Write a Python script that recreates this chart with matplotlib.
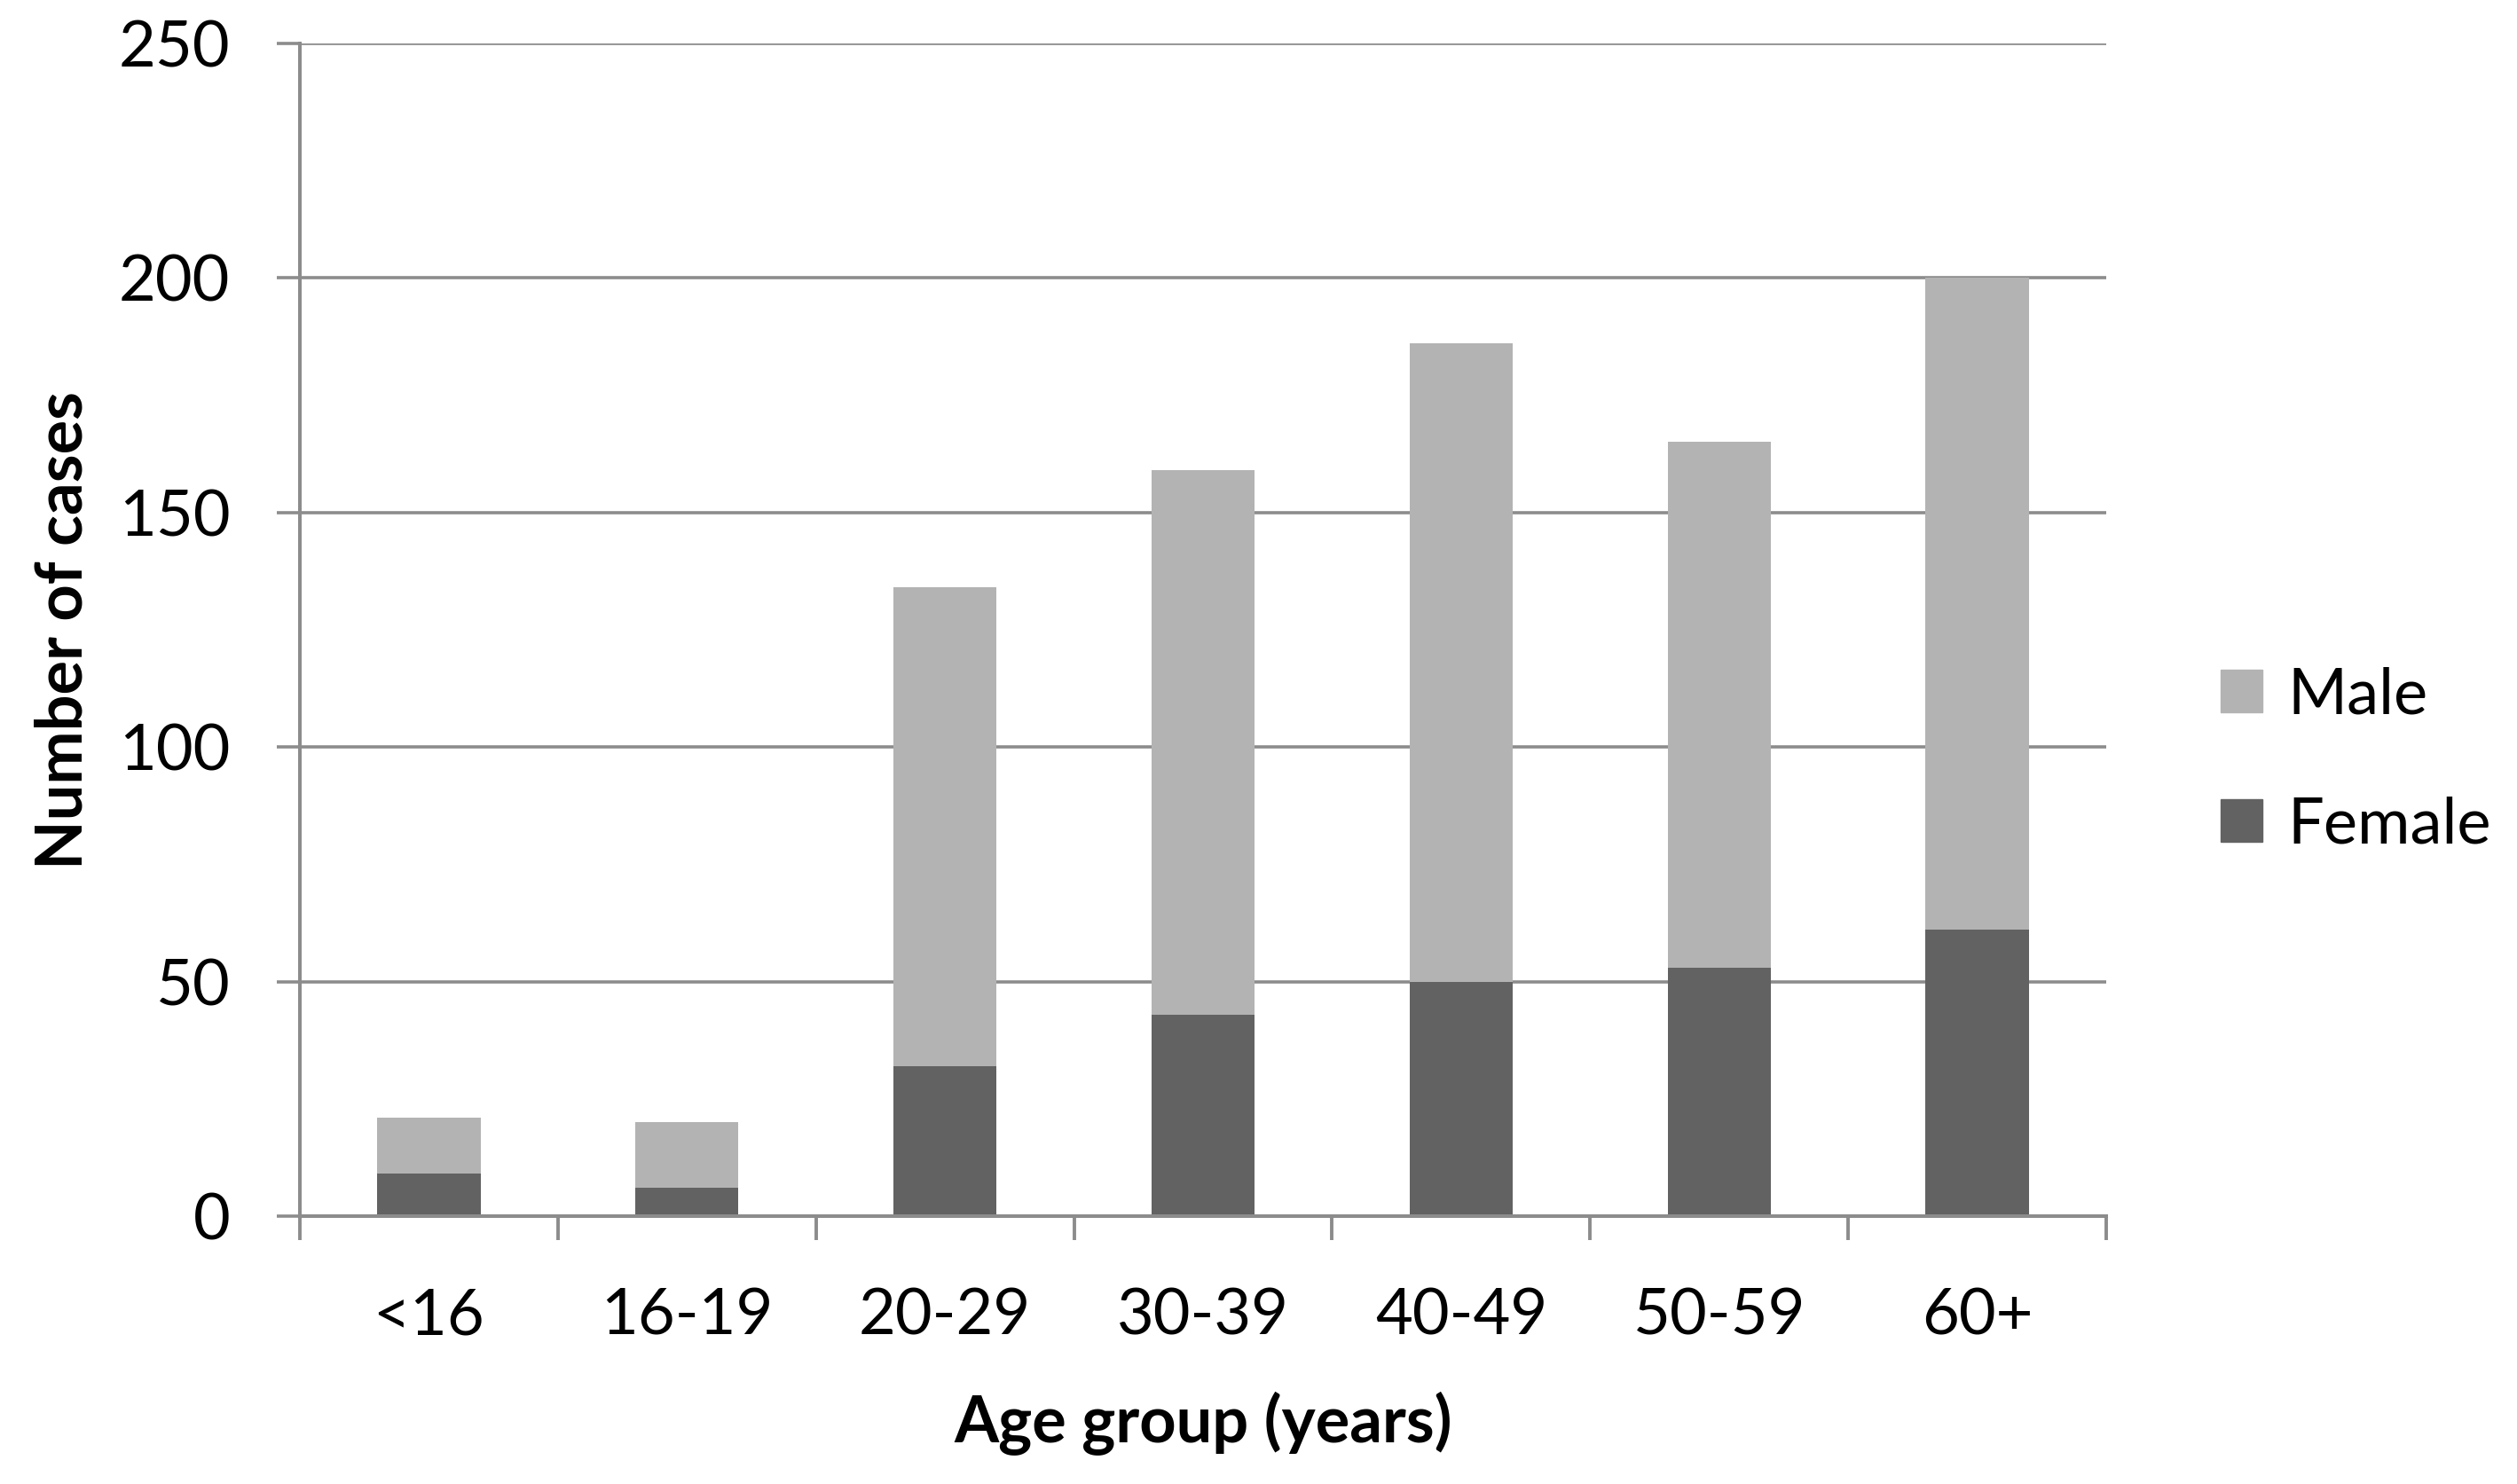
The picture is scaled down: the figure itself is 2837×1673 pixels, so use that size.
import numpy as np
import matplotlib.pyplot as plt
from matplotlib.patches import Patch

# values
age_groups = ['<16', '16-19', '20-29', '30-39', '40-49', '50-59', '60+']
female = [9, 6, 32, 43, 50, 53, 61]
male = [12, 14, 102, 116, 136, 112, 139]

plt.rcParams['font.family'] = ['Lato', 'DejaVu Sans']

grid_col = '#8c8c8c'
male_col = '#b3b3b3'
female_col = '#626262'
fs = 52

fig = plt.figure(figsize=(28.37, 16.73), dpi=100)
ax = fig.add_axes([338 / 2837, 1 - 1371 / 1673, 2036 / 2837, 1322 / 1673])

x = np.arange(len(age_groups))
ax.bar(x, female, width=0.4, color=female_col, zorder=3)
ax.bar(x, male, width=0.4, bottom=female, color=male_col, zorder=3)

ax.set_xlim(-0.5, len(age_groups) - 0.5)
ax.set_ylim(0, 250)
ax.set_yticks(np.arange(0, 251, 50))
ax.yaxis.grid(True, color=grid_col, linewidth=2.6, zorder=0)

ax.set_xticks(x)
ax.set_xticklabels(age_groups)
ax.set_xticks(np.arange(-0.5, len(age_groups)), minor=True)
ax.tick_params(axis='x', which='major', length=0, pad=58, labelsize=fs)
ax.tick_params(axis='x', which='minor', length=19.5, width=2.8, color=grid_col)
ax.tick_params(axis='y', length=18.7, width=2.6, color=grid_col, pad=38, labelsize=fs)

for s in ['top', 'right']:
    ax.spines[s].set_visible(False)
for s in ['left', 'bottom']:
    ax.spines[s].set_color(grid_col)
    ax.spines[s].set_linewidth(2.9)
    ax.spines[s].set_zorder(4)

ax.set_xlabel('Age group (years)', fontsize=fs, fontweight='bold', labelpad=38)
ax.set_ylabel('Number of cases', fontsize=fs, fontweight='bold', labelpad=20)

handles = [Patch(color=male_col), Patch(color=female_col)]
fig.legend(handles, ['Male', 'Female'], loc='center left',
           bbox_to_anchor=(2503 / 2837, 1 - 857 / 1673), frameon=False,
           fontsize=fs, handlelength=0.65, handleheight=0.65,
           handletextpad=0.4, labelspacing=1.12, borderpad=0, borderaxespad=0)

fig.savefig('out.png', dpi=100)
